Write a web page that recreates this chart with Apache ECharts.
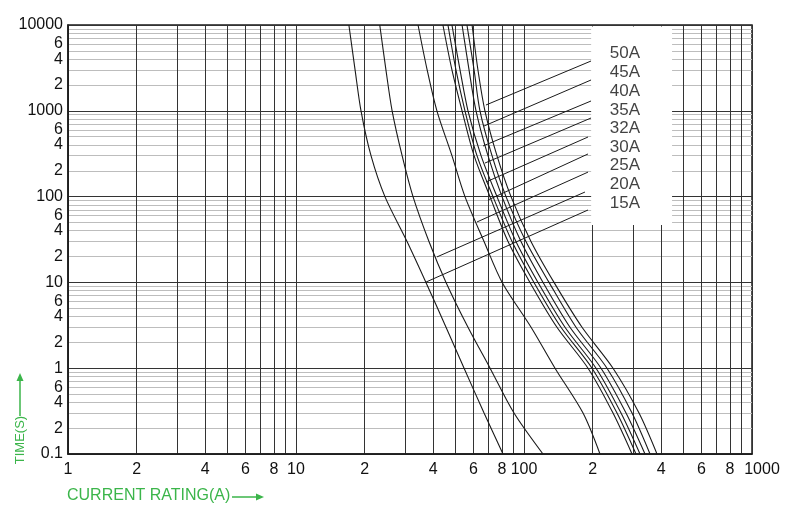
<!DOCTYPE html>
<html><head><meta charset="utf-8">
<script src="https://cdn.jsdelivr.net/npm/echarts@6/dist/echarts.min.js"></script>
<style>html,body{margin:0;padding:0;background:#fff}#c{width:800px;height:519px}</style>
</head><body><div id="c"></div><script>
// ---- data ----
const ratings = ['15A','20A','25A','30A','32A','35A','40A','45A','50A'];
const times = [10000, 3000, 1000, 300, 100, 30, 10, 3, 1, 0.3, 0.1];
const current15A = [17.06, 18.16, 19.28, 21.33, 24.55, 30.69, 37.15, 45.5, 54.6, 66.8, 80.9];
const current20A = [23.3, 24.8, 26.4, 29.2, 32.6, 38.3, 45.5, 56.8, 71.0, 90.4, 121.1];
const current25A = [34.3, 37.6, 41.5, 48.3, 55.1, 66.8, 80.2, 107.4, 136.8, 181.5, 215.4];
const current30A = [44.1, 48.3, 53.5, 60.4, 70.9, 85.1, 106.2, 139.5, 190.9, 245.7, 297.7];
const current32A = [46.4, 50.3, 55.1, 62.2, 73.1, 88.6, 110.6, 145.3, 198.7, 255.8, 309.9];
const current35A = [48.3, 52.4, 56.8, 64.8, 76.1, 92.2, 115.2, 151.3, 207.0, 266.4, 322.7];
const current40A = [53.5, 57.4, 61.6, 69.5, 80.1, 97.0, 121.2, 159.1, 217.7, 280.2, 339.4];
const current45A = [56.2, 60.4, 64.1, 72.4, 83.4, 102.0, 128.8, 169.1, 231.2, 297.7, 357.0];
const current50A = [59.2, 62.8, 67.4, 76.1, 87.7, 107.3, 135.4, 179.7, 245.7, 319.5, 383.1];
const curveCurrents = [current15A, current20A, current25A, current30A, current32A, current35A, current40A, current45A, current50A];

// leader lines from curve (current, time) to label box (current, time)
const leaderFrom = [[37.2,10.1],[41.5,19.8],[62.2,50.6],[69.5,91.3],[68.1,148],[67.4,246],[66.1,389],[66.8,665],[68.1,1168]];
const leaderTo   = [[190.9,69.8],[185.1,113],[190.9,193],[190.9,314],[190.9,495],[196.8,824],[196.8,1301],[196.8,2286],[196.8,3805]];
const labelCurrent = 277;
const labelTimes = [84.2, 140.3, 233.5, 378.6, 630, 1022, 1701, 2832, 4718];
const labelBoxCurrent = [197, 446];
const labelBoxTime = [46.7, 9600];

const xTickLabels = [1,2,4,6,8,10,20,40,60,80,100,200,400,600,800,1000];
const yTickLabels = [0.1,0.2,0.4,0.6,1,2,4,6,10,20,40,60,100,200,400,600,1000,2000,4000,6000,10000];
const mantissas = [1,2,3,4,5,6,7,8,9];

function gridValues(lo, hi){
  const out = [];
  for (let e = lo; e < hi; e++) for (const m of mantissas) out.push(+(m*Math.pow(10,e)).toPrecision(6));
  out.push(Math.pow(10,hi));
  return out;
}
function fmt(v){
  const e = Math.floor(Math.log10(v) + 1e-9);
  const m = Math.round(v / Math.pow(10, e));
  return m === 1 ? String(+v.toPrecision(6)) : String(m);
}

const GREEN = '#3bb54a';
const FONT = "'Liberation Sans', Arial, sans-serif";
const INK = '#1a1a1a';

const series = [];
curveCurrents.forEach((arr, i) => {
  series.push({
    type: 'line', name: ratings[i], symbol: 'none', smooth: 0.3, z: 4, silent: true,
    lineStyle: {color: INK, width: 1.1},
    data: arr.map((c, j) => [c, times[j]])
  });
});
series.push({
  type: 'line', data: [], silent: true, z: 3,
  markArea: {silent: true, itemStyle: {color: '#ffffff', opacity: 1},
    data: [[{coord: [labelBoxCurrent[0], labelBoxTime[1]]}, {coord: [labelBoxCurrent[1], labelBoxTime[0]]}]]}
});
leaderFrom.forEach((p, i) => {
  series.push({
    type: 'line', symbol: 'none', z: 5, silent: true,
    lineStyle: {color: INK, width: 1},
    data: [p, leaderTo[i]]
  });
});
series.push({
  type: 'scatter', z: 6, symbol: 'circle', symbolSize: 1, silent: true,
  itemStyle: {color: 'rgba(0,0,0,0)'},
  label: {show: true, position: 'inside', formatter: p => p.name, fontSize: 17, fontFamily: FONT, color: '#111'},
  data: ratings.map((r, i) => ({name: r, value: [labelCurrent, labelTimes[i]]}))
});

const chart = echarts.init(document.getElementById('c'), null, {renderer: 'canvas'});
chart.setOption({
  animation: false,
  backgroundColor: '#ffffff',
  grid: {left: 68, right: 48, top: 25, bottom: 65, show: true, borderColor: INK, borderWidth: 1.5, outerBoundsMode: 'none'},
  xAxis: {
    type: 'log', logBase: 10, min: 1, max: 1000,
    axisLine: {show: true, lineStyle: {color: INK, width: 1.5}},
    axisTick: {show: false, customValues: gridValues(0, 3)},
    axisLabel: {customValues: xTickLabels, fontSize: 16, fontFamily: FONT, color: '#111', margin: 8,
      formatter: v => v === 1000 ? '{r|1000}' : fmt(v),
      rich: {r: {fontSize: 16, fontFamily: FONT, color: '#111', padding: [0, 0, 0, 20]}}},
    splitLine: {show: true, lineStyle: {color: '#333333', width: 1}}
  },
  yAxis: {
    type: 'log', logBase: 10, min: 0.1, max: 10000,
    axisLine: {show: true, lineStyle: {color: INK, width: 1.5}},
    axisTick: {show: false, customValues: gridValues(-1, 4)},
    axisLabel: {customValues: yTickLabels, formatter: fmt, fontSize: 16, fontFamily: FONT, color: '#111', margin: 5},
    splitLine: {show: true, lineStyle: {color: ['#333333','#bdbdbd','#bdbdbd','#bdbdbd','#bdbdbd','#bdbdbd','#bdbdbd','#bdbdbd','#bdbdbd'], width: 1}}
  },
  graphic: [
    {type: 'text', left: 67, top: 488, style: {text: 'CURRENT RATING(A)', fill: GREEN, font: '16px ' + FONT}},
    {type: 'line', shape: {x1: 232, y1: 497, x2: 257, y2: 497}, style: {stroke: GREEN, lineWidth: 1.5}},
    {type: 'polygon', shape: {points: [[256, 493.5], [264, 497], [256, 500.5]]}, style: {fill: GREEN}},
    {type: 'text', x: 20, y: 440, rotation: Math.PI / 2, style: {text: 'TIME(S)', fill: GREEN, font: '13px ' + FONT, align: 'center', verticalAlign: 'middle'}},
    {type: 'line', shape: {x1: 20, y1: 416, x2: 20, y2: 380}, style: {stroke: GREEN, lineWidth: 1.5}},
    {type: 'polygon', shape: {points: [[16.5, 381], [20, 373], [23.5, 381]]}, style: {fill: GREEN}}
  ],
  series: series
});
</script></body></html>
